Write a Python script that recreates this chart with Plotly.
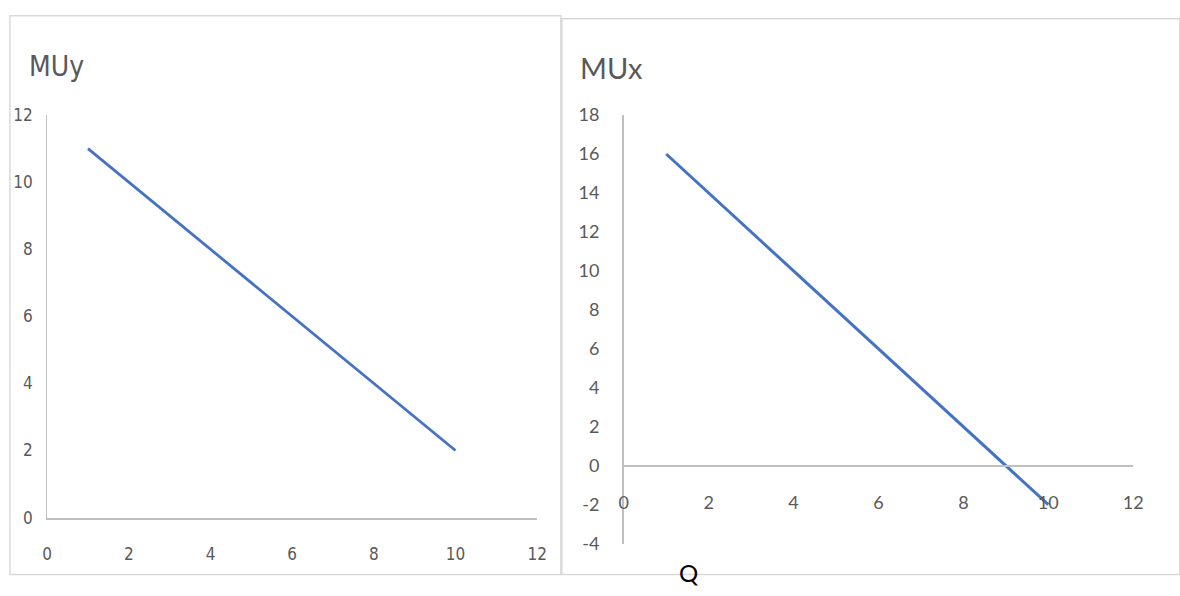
import plotly.graph_objects as go

# ---- data ----
q_left = [1, 2, 3, 4, 5, 6, 7, 8, 9, 10]
muy = [11, 10, 9, 8, 7, 6, 5, 4, 3, 2]
q_right = [1, 2, 3, 4, 5, 6, 7, 8, 9, 10]
mux = [16, 14, 12, 10, 8, 6, 4, 2, 0, -2]
mux_tick_vals = [-4, -2, 0, 2, 4, 6, 8, 10, 12, 14, 16, 18]
mux_tick_text = ["-4", "-2", "0", "2", "4", "6", "8", "10", "12", "14", "16", "18"]
left_title = "MUy"
right_title = "MUx"
q_label = "Q"

W, H = 1180, 596
def px(x):
    return x / W
def py(y):
    return 1 - y / H

LINE = "#4472C4"
TXT = "#595959"
AX = "#BFBFBF"
BORDER = "#D9D9D9"
NARROW = "Liberation Sans Narrow, DejaVu Sans Condensed, Roboto, sans-serif"
CAL = "Lato, Open Sans, sans-serif"

fig = go.Figure()
fig.add_trace(go.Scatter(x=q_left, y=muy, mode="lines",
                         line=dict(color=LINE, width=2.8),
                         xaxis="x", yaxis="y", showlegend=False, hoverinfo="skip"))
fig.add_trace(go.Scatter(x=q_right, y=mux, mode="lines",
                         line=dict(color=LINE, width=3),
                         xaxis="x2", yaxis="y2", showlegend=False, hoverinfo="skip"))

fig.update_layout(
    width=W, height=H,
    margin=dict(l=0, r=0, t=0, b=0),
    paper_bgcolor="white", plot_bgcolor="rgba(0,0,0,0)",
    xaxis=dict(domain=[px(42.7), px(539)], range=[0, 12], dtick=2, tick0=0,
               showgrid=False, zeroline=False, showline=True, linecolor=AX, linewidth=2,
               ticks="", ticklabelstandoff=20, anchor="y",
               tickfont=dict(family=NARROW, size=17, color=TXT)),
    yaxis=dict(domain=[py(525), py(107)], range=[0, 12], dtick=2, tick0=0,
               showgrid=False, zeroline=False, showline=True, linecolor=AX, linewidth=1,
               ticks="", ticklabelstandoff=10, anchor="x",
               tickfont=dict(family=NARROW, size=17, color=TXT)),
    xaxis2=dict(domain=[px(626.7), px(1142.7)], range=[0, 12], dtick=2, tick0=0,
                showgrid=False, zeroline=False, showline=True, linecolor=AX, linewidth=1.5,
                ticks="", ticklabelstandoff=21, anchor="free", position=py(471),
                tickfont=dict(family=CAL, size=18, color=TXT)),
    yaxis2=dict(domain=[py(552), py(107)], range=[-4, 18],
                tickmode="array", tickvals=mux_tick_vals, ticktext=mux_tick_text,
                showgrid=False, zeroline=False, showline=True, linecolor=AX, linewidth=1.5,
                ticks="", ticklabelstandoff=19, anchor="x2",
                tickfont=dict(family=CAL, size=18, color=TXT)),
    shapes=[
        dict(type="rect", xref="paper", yref="paper",
             x0=px(5), x1=px(563), y0=py(584), y1=py(4),
             line=dict(color=BORDER, width=1.5), layer="below"),
        dict(type="rect", xref="paper", yref="paper",
             x0=px(564), x1=px(1190), y0=py(584), y1=py(7),
             line=dict(color=BORDER, width=1.5), layer="below"),
    ],
    annotations=[
        dict(text=left_title, xref="paper", yref="paper", x=px(22), y=py(57),
             xanchor="left", yanchor="middle", showarrow=False,
             font=dict(family=NARROW, size=28, color=TXT)),
        dict(text=right_title, xref="paper", yref="paper", x=px(580), y=py(58),
             xanchor="left", yanchor="middle", showarrow=False,
             font=dict(family=CAL, size=29, color=TXT)),
        dict(text=q_label, xref="paper", yref="paper", x=px(692), y=py(582),
             xanchor="center", yanchor="middle", showarrow=False,
             font=dict(family=CAL, size=24, color="black")),
    ],
)

fig.write_html("out.html", config={"displayModeBar": False},
               post_script="document.body.style.margin='0';document.body.style.overflow='hidden';")
